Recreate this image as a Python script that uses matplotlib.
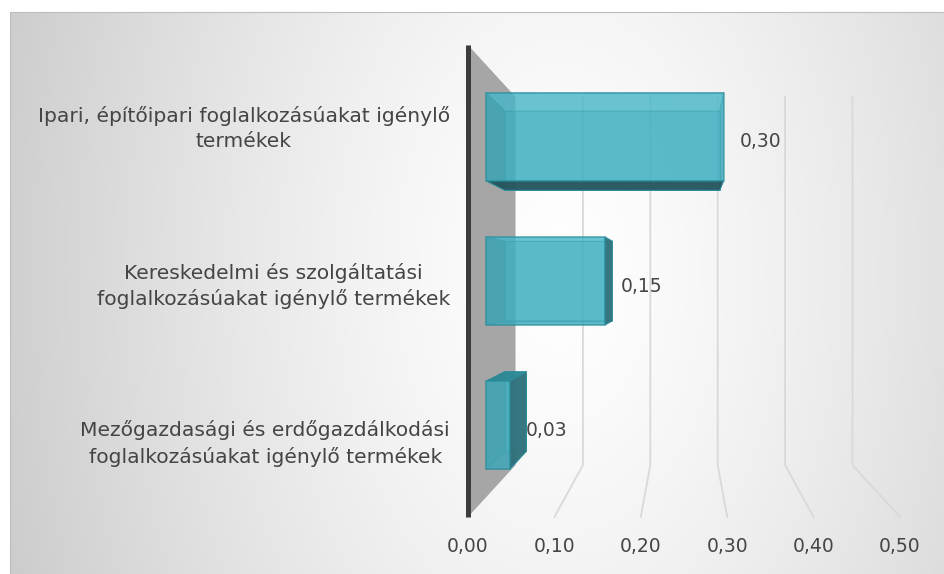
import numpy as np
import matplotlib
matplotlib.use("Agg")
import matplotlib.pyplot as plt
from matplotlib.patches import Polygon
from matplotlib.transforms import offset_copy

# ---- data -------------------------------------------------------------
categories = [
    "Ipari, építőipari foglalkozásúakat igénylő\ntermékek",
    "Kereskedelmi és szolgáltatási\nfoglalkozásúakat igénylő termékek",
    "Mezőgazdasági és erdőgazdálkodási\nfoglalkozásúakat igénylő termékek",
]
values = [0.30, 0.15, 0.03]
value_labels = ["0,30", "0,15", "0,03"]
value_ticks = [0.0, 0.1, 0.2, 0.3, 0.4, 0.5]
tick_labels = ["0,00", "0,10", "0,20", "0,30", "0,40", "0,50"]

# ---- layout -----------------------------------------------------------
W, H, DPI = 945, 574, 100
X0_PX, PX_PER_VAL = 468, 864          # front plane: value 0 and scale
FLOOR_PX, PX_PER_CAT = 57, 157.33     # front plane floor (from bottom)
TEXT = "#454545"
FONT = ["DejaVu Sans"]

fig = plt.figure(figsize=(W / DPI, H / DPI), dpi=DPI)
fig.patch.set_facecolor("white")

# chart-area background with a soft radial gradient
bg = fig.add_axes([10 / W, 0, (W - 10) / W, (H - 12) / H])
yy, xx = np.mgrid[12:H, 10:W] + 0.5
r = np.sqrt(((xx - 560) / 560) ** 2 + ((yy - 270) / 900) ** 2)
g = 1 - 0.19 * np.clip(r, 0, 1.3) ** 1.3
bg.imshow(np.dstack([g, g, g]), extent=(10, W, H, 12), aspect="auto",
          interpolation="bilinear")
bg.set_axis_off()
fig.add_artist(plt.Line2D([10 / W, 10 / W, 1], [0, (H - 12) / H, (H - 12) / H],
                          transform=fig.transFigure, color="#bdbdbd", lw=0.8))

ax = fig.add_axes([0, 0, 1, 1])
ax.set_xlim(-X0_PX / PX_PER_VAL, (W - X0_PX) / PX_PER_VAL)
ax.set_ylim(-FLOOR_PX / PX_PER_CAT, (H - FLOOR_PX) / PX_PER_CAT)
ax.set_axis_off()
ax.patch.set_alpha(0)

n = len(categories)
vmin, vmax = value_ticks[0], value_ticks[-1]
cat_pos = [n - i - 0.5 for i in range(n)]

# perspective: points recede towards the centre of the plot box
VX, VY = (vmin + vmax) / 2, n / 2
S_BACK = 0.78
S_BAR_FRONT, S_BAR_BACK = 0.917, 0.829
BAR_H = 0.61


def proj(x, y, s):
    return (VX + (x - VX) * s, VY + (y - VY) * s)


# gridlines: back wall segment plus floor segment
for v in value_ticks[1:]:
    pts = [proj(v, n, S_BACK), proj(v, 0, S_BACK), proj(v, 0, 1.0)]
    ax.plot([p[0] for p in pts], [p[1] for p in pts], color="#d9d9d9",
            lw=1.3, zorder=1, solid_joinstyle="miter")

# side wall at value 0
wall = [proj(vmin, 0, 1), proj(vmin, n, 1), proj(vmin, n, S_BACK),
        proj(vmin, 0, S_BACK)]
ax.add_patch(Polygon(wall, closed=True, facecolor="#a6a6a6",
                     edgecolor="none", zorder=2))
ax.plot([vmin, vmin], [0, n], color="#3c3c3c", lw=3.6,
        solid_capstyle="butt", zorder=3)

# 3-D bars
EDGE = "#2b8c9a"
for v, c in zip(values, cat_pos):
    x0, x1 = vmin, v
    y0, y1 = c - BAR_H / 2, c + BAR_H / 2

    def rect(s):
        return [proj(x0, y0, s), proj(x1, y0, s), proj(x1, y1, s),
                proj(x0, y1, s)]

    F, B = rect(S_BAR_FRONT), rect(S_BAR_BACK)
    faces = {
        "bottom": ([F[0], F[1], B[1], B[0]], VY < y0),
        "right": ([F[1], F[2], B[2], B[1]], VX > x1),
        "top": ([F[3], F[2], B[2], B[3]], VY > y1),
        "left": ([F[0], F[3], B[3], B[0]], VX < x0),
    }
    outer_col = {"bottom": "#24535a", "right": "#2f6f79",
                 "top": "#2c8794", "left": "#2f6f79"}
    inner_col = {"bottom": "#2f8e9c", "right": "#2f8e9c",
                 "top": "#66cddc", "left": "#1d7d8b"}

    ax.add_patch(Polygon(B, closed=True, facecolor="#3dafc1", alpha=0.6,
                         edgecolor=EDGE, lw=0.6, zorder=4))
    for k, (pts, vis) in faces.items():
        if not vis:
            ax.add_patch(Polygon(pts, closed=True, facecolor=inner_col[k],
                                 alpha=0.5, edgecolor=EDGE, lw=0.6,
                                 zorder=5))
    for k, (pts, vis) in faces.items():
        if vis:
            ax.add_patch(Polygon(pts, closed=True, facecolor=outer_col[k],
                                 alpha=0.92, edgecolor=EDGE, lw=0.8,
                                 zorder=6))
    ax.add_patch(Polygon(F, closed=True, facecolor="#3dafc1", alpha=0.62,
                         edgecolor=EDGE, lw=1.2, zorder=7))

# data labels
lab_tr = offset_copy(ax.transData, fig=fig, x=16, y=-5, units="dots")
for v, c, t in zip(values, cat_pos, value_labels):
    px, py = proj(v, c, S_BAR_FRONT)
    ax.text(px, py, t, transform=lab_tr, ha="left", va="center",
            fontsize=13.5, color=TEXT, family=FONT, zorder=8)

# value-axis tick labels along the front floor edge
tick_tr = offset_copy(ax.transData, fig=fig, x=0, y=-29, units="dots")
for v, t in zip(value_ticks, tick_labels):
    ax.text(v, 0, t, transform=tick_tr, ha="center", va="center",
            fontsize=13.5, color=TEXT, family=FONT)

# category labels
cat_tr = offset_copy(ax.transData, fig=fig, x=-18, y=-5, units="dots")
for c, t in zip(cat_pos, categories):
    ax.text(vmin, c, t, transform=cat_tr, ha="right", va="center",
            multialignment="center", linespacing=1.4,
            fontsize=14.6, color=TEXT, family=FONT)

fig.savefig("out.png", dpi=DPI)
